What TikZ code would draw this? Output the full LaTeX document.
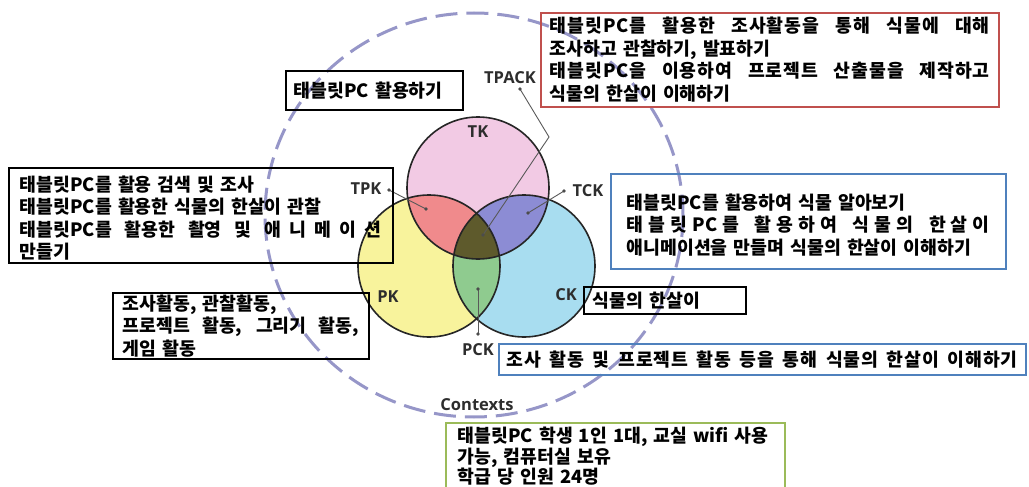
\documentclass[tikz,border=0pt]{standalone}
\usepackage{fontspec}
\setmainfont{Noto Sans CJK KR}
\newfontfamily\krwide{Noto Sans CJK KR}[LetterSpace=5.0]
\newfontfamily\lblfont{Open Sans}
\newcommand\spreadline[1]{\leavevmode\hbox to\linewidth{\spaceskip=0.25em plus 1fil\relax #1}}
\definecolor{tkfill}{RGB}{242,202,228}
\definecolor{pkfill}{RGB}{248,243,156}
\definecolor{ckfill}{RGB}{168,221,240}
\definecolor{tpfill}{RGB}{240,138,140}
\definecolor{tcfill}{RGB}{140,140,212}
\definecolor{pcfill}{RGB}{143,203,143}
\definecolor{tpcfill}{RGB}{94,90,44}
\definecolor{ctxcol}{RGB}{150,150,200}
\definecolor{boxred}{RGB}{192,80,77}
\definecolor{boxblue}{RGB}{79,129,189}
\definecolor{boxgreen}{RGB}{155,187,89}
\definecolor{lblcol}{RGB}{45,45,45}
\begin{document}
\begin{tikzpicture}[x=1pt,y=-1pt,
  ctx/.style={draw=ctxcol,line width=3pt,dash pattern=on 22pt off 9pt},
  venn/.style={circle,draw=black!85,line width=1.6pt,minimum size=142pt,inner sep=0pt},
  lbl/.style={font=\lblfont\fontsize{16.5}{16.5}\selectfont\bfseries,text=lblcol,inner sep=1pt},
  lead/.style={draw=black!65,line width=0.9pt},
  ldot/.style={fill=black!70},
  tbox/.style={draw,line width=1.6pt,anchor=north west,align=left,inner ysep=0pt,
    font=\fontsize{18.3}{22.5}\selectfont\bfseries}
]
\useasboundingbox (0,0) rectangle (1029,487);
% contexts dashed ellipse
\draw[ctx] (474,215) ellipse [x radius=209, y radius=202];
% venn fills
\fill[tkfill] (478,188) circle [radius=71];
\fill[pkfill] (429,266) circle [radius=71];
\fill[ckfill] (524,266) circle [radius=71];
\begin{scope}
  \clip (478,188) circle [radius=71];
  \fill[tpfill] (429,266) circle [radius=71];
  \fill[tcfill] (524,266) circle [radius=71];
\end{scope}
\begin{scope}
  \clip (429,266) circle [radius=71];
  \fill[pcfill] (524,266) circle [radius=71];
\end{scope}
\begin{scope}
  \clip (478,188) circle [radius=71];
  \clip (429,266) circle [radius=71];
  \fill[tpcfill] (524,266) circle [radius=71];
\end{scope}
\node[venn] (TK) at (478,188) {};
\node[venn] (PK) at (429,266) {};
\node[venn] (CK) at (524,266) {};
% labels
\node[lbl] (tklbl) at (478,132) {TK};
\node[lbl] (pklbl) at (388,297) {PK};
\node[lbl] (cklbl) at (566,295) {CK};
\node[lbl] (tpacklbl) at (510,78) {TPACK};
\node[lbl] (tpklbl) at (366,189) {TPK};
\node[lbl] (tcklbl) at (588,191) {TCK};
\node[lbl] (pcklbl) at (478,350) {PCK};
\node[lbl] (ctxlbl) at (477,405) {Contexts};
% leader points
\coordinate (tpackA) at (520,89);
\coordinate (tpackB) at (549,137);
\coordinate (tpackC) at (483,235);
\coordinate (tpkA) at (389,190);
\coordinate (tpkB) at (426,209);
\coordinate (tckA) at (564,191);
\coordinate (tckB) at (528,213);
\coordinate (pckA) at (478,334);
\coordinate (pckB) at (478,289);
\draw[lead] (tpackA) -- (tpackB) -- (tpackC);
\draw[lead] (tpkA) -- (tpkB);
\draw[lead] (tckA) -- (tckB);
\draw[lead] (pckA) -- (pckB);
\foreach \p in {tpackA,tpackC,tpkA,tpkB,tckA,tckB,pckA,pckB}
  \fill[ldot] (\p) circle [radius=1.8];
% text boxes
\node[tbox,minimum width=177pt,minimum height=39pt,text width=161pt,inner xsep=8pt] (b1) at (285,70)
  {태블릿PC 활용하기};
\node[tbox,draw=boxred,minimum width=458pt,minimum height=94pt,text width=440pt,inner xsep=9pt] (b2) at (540,12)
  {\spreadline{\krwide 태블릿PC를 활용한 조사활동을 통해 식물에 대해}\\
   조사하고 관찰하기, 발표하기\\
   \spreadline{\krwide 태블릿PC을 이용하여 프로젝트 산출물을 제작하고}\\
   식물의 한살이 이해하기};
\node[tbox,minimum width=384pt,minimum height=95pt,text width=362pt,inner xsep=11pt] (b3) at (8,167)
  {\rule{0pt}{21pt}태블릿PC를 활용 검색 및 조사\\
   태블릿PC를 활용한 식물의 한살이 관찰\\
   \spreadline{태블릿PC를 활용한 촬영 및 애\hfil 니\hfil 메\hfil 이\hfil 션}\\
   만들기};
\node[tbox,draw=boxblue,minimum width=395pt,minimum height=95pt,text width=363pt,inner xsep=16pt] (b4) at (610,173)
  {\rule{0pt}{23pt}태블릿PC를 활용하여 식물 알아보기\\
   \leavevmode\hbox to\linewidth{태\hfill 블\hfill 릿\hfill PC\hfill 를\hfill\hfill\hfill 활\hfill 용\hfill 하\hfill 여\hfill\hfill\hfill 식\hfill 물\hfill 의\hfill\hfill\hfill 한\hfill 살\hfill 이}\\
   애니메이션을 만들며 식물의 한살이 이해하기};
\node[tbox,minimum width=256pt,minimum height=66pt,text width=236pt,inner xsep=10pt] (b5) at (112,292)
  {조사활동, 관찰활동,\\
   \spreadline{프로젝트 활동, 그리기 활동,}\\
   게임 활동};
\node[tbox,minimum width=162pt,minimum height=27pt,text width=144pt,inner xsep=9pt] (b6) at (583,286)
  {식물의 한살이};
\node[tbox,draw=boxblue,minimum width=527pt,minimum height=31pt,text width=511pt,inner xsep=8pt] (b7) at (498,343)
  {\spreadline{\krwide 조사 활동 및 프로젝트 활동 등을 통해 식물의 한살이 이해하기}};
\node[tbox,draw=boxgreen,minimum width=339pt,text width=315pt,inner xsep=12pt,inner ysep=4pt,
      font=\fontsize{18.3}{20.8}\selectfont\bfseries] (b8) at (445,422)
  {태블릿PC 학생 1인 1대, 교실 wifi 사용\\
   가능, 컴퓨터실 보유\\
   학급 당 인원 24명};
\end{tikzpicture}
\end{document}
